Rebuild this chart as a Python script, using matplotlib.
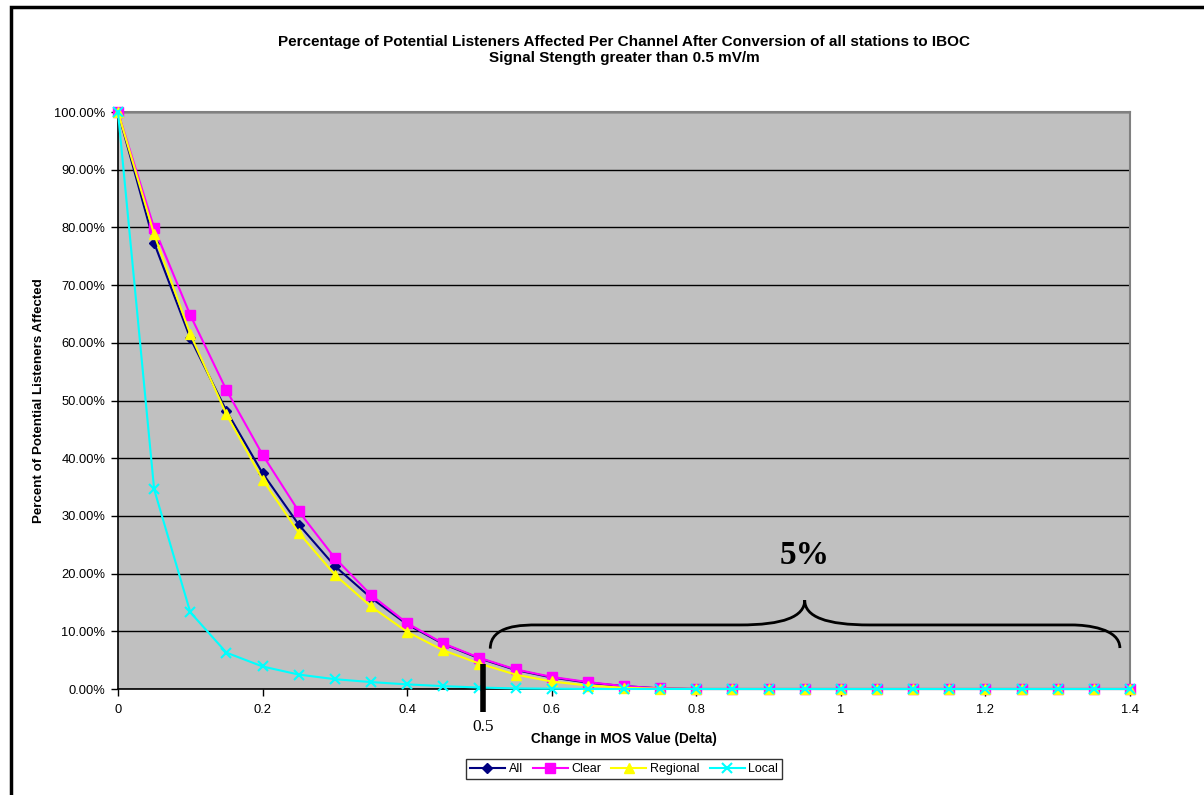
import matplotlib
matplotlib.use("Agg")
import matplotlib.pyplot as plt
from matplotlib.path import Path
from matplotlib.patches import PathPatch, Rectangle
from matplotlib.transforms import blended_transform_factory

# ---- data ----
x_vals = [0.0, 0.05, 0.1, 0.15, 0.2, 0.25, 0.3, 0.35, 0.4, 0.45, 0.5, 0.55, 0.6, 0.65,
          0.7, 0.75, 0.8, 0.85, 0.9, 0.95, 1.0, 1.05, 1.1, 1.15, 1.2, 1.25, 1.3, 1.35, 1.4]
all_vals = [100, 77.3, 60.8, 48.2, 37.4, 28.5, 21.3, 15.8, 11.2, 7.8, 5.3, 3.3, 2.0, 1.1,
            0.5, 0.1, 0, 0, 0, 0, 0, 0, 0, 0, 0, 0, 0, 0, 0]
clear_vals = [100, 79.9, 64.8, 51.8, 40.6, 30.8, 22.7, 16.3, 11.4, 7.9, 5.4, 3.4, 2.1, 1.2,
              0.5, 0.1, 0, 0, 0, 0, 0, 0, 0, 0, 0, 0, 0, 0, 0]
regional_vals = [100, 78.8, 61.5, 47.6, 36.3, 27.1, 19.8, 14.3, 9.9, 6.7, 4.4, 2.5, 1.3, 0.6,
                 0.2, 0.05, 0, 0, 0, 0, 0, 0, 0, 0, 0, 0, 0, 0, 0]
local_vals = [100, 34.6, 13.3, 6.3, 3.9, 2.5, 1.7, 1.2, 0.8, 0.5, 0.25, 0.1, 0.05, 0,
              0, 0, 0, 0, 0, 0, 0, 0, 0, 0, 0, 0, 0, 0, 0]
series_names = ["All", "Clear", "Regional", "Local"]
x_ticks = [0, 0.2, 0.4, 0.6, 0.8, 1.0, 1.2, 1.4]
x_tick_labels = ["0", "0.2", "0.4", "0.6", "0.8", "1", "1.2", "1.4"]
y_ticks = [0, 10, 20, 30, 40, 50, 60, 70, 80, 90, 100]
y_tick_labels = ["%.2f%%" % v for v in y_ticks]

title = ("Percentage of Potential Listeners Affected Per Channel After Conversion of all stations to IBOC\n"
         "Signal Stength greater than 0.5 mV/m")

plt.rcParams['font.family'] = ['Liberation Sans', 'DejaVu Sans']

fig = plt.figure(figsize=(12.04, 7.95), dpi=100)
ax = fig.add_axes([118/1204, 1-689/795, (1130-118)/1204, (689-112)/795])
ax.set_facecolor('#C0C0C0')

styles = [
    dict(color='#000080', marker='D', markersize=5.5),
    dict(color='#FF00FF', marker='s', markersize=6.5),
    dict(color='#FFFF00', marker='^', markersize=7),
    dict(color='#00FFFF', marker='x', markersize=7, markeredgewidth=1.5),
]
for name, vals, st in zip(series_names, [all_vals, clear_vals, regional_vals, local_vals], styles):
    ax.plot(x_vals, vals, label=name, linewidth=1.5, clip_on=False, zorder=3, **st)

ax.set_xlim(0, 1.4)
ax.set_ylim(0, 100)
ax.set_xticks(x_ticks)
ax.set_xticklabels(x_tick_labels, fontsize=9.3)
ax.set_yticks(y_ticks)
ax.set_yticklabels(y_tick_labels, fontsize=9.3)
ax.tick_params(direction='out', length=5, width=1, color='black')
ax.tick_params(axis='x', pad=6)
ax.tick_params(axis='y', pad=4)
ax.yaxis.grid(True, color='black', linewidth=1)
ax.set_axisbelow(True)
for s in ['top', 'right']:
    ax.spines[s].set_color('#808080')
    ax.spines[s].set_linewidth(1.5)
for s in ['left', 'bottom']:
    ax.spines[s].set_color('black')
    ax.spines[s].set_linewidth(1.2)

ax.set_ylabel("Percent of Potential Listeners Affected", fontsize=9.6, fontweight='bold', labelpad=7)
ax.set_xlabel("Change in MOS Value (Delta)", fontsize=9.8, fontweight='bold', labelpad=11)

fig.text(624/1204, 1-50/795, title, ha='center', va='center', fontsize=11.0,
         fontweight='bold', linespacing=1.15)

# annotations
trans = blended_transform_factory(ax.transData, ax.transAxes)
ax.plot([0.505, 0.505], [4.4, -4], color='black', linewidth=4, clip_on=False, zorder=4,
        solid_capstyle='butt')
ax.text(0.505, -0.065, "0.5", transform=trans, ha='center', va='center',
        fontsize=12.5, family='Liberation Serif')
ax.text(0.95, 23.2, "5%", ha='center', va='center', fontsize=24,
        fontweight='bold', family='Liberation Serif', zorder=5)

verts = [
    (0.515, 7.0), (0.515, 11.1), (0.56, 11.1), (0.58, 11.1),
    (0.86, 11.1),
    (0.92, 11.1), (0.95, 12.5), (0.95, 15.4),
    (0.95, 12.5), (0.98, 11.1), (1.04, 11.1),
    (1.32, 11.1),
    (1.34, 11.1), (1.386, 10.5), (1.386, 7.1),
]
codes = [Path.MOVETO, Path.CURVE4, Path.CURVE4, Path.CURVE4,
         Path.LINETO,
         Path.CURVE4, Path.CURVE4, Path.CURVE4,
         Path.CURVE4, Path.CURVE4, Path.CURVE4,
         Path.LINETO,
         Path.CURVE4, Path.CURVE4, Path.CURVE4]
ax.add_patch(PathPatch(Path(verts, codes), facecolor='none', edgecolor='black',
                       linewidth=2, zorder=5))

leg = fig.legend(loc='center', bbox_to_anchor=(624/1204, 1-769/795), ncol=4, fontsize=9,
                 frameon=True, fancybox=False, edgecolor='black', handlelength=2.8,
                 handletextpad=0.3, columnspacing=0.8, borderpad=0.3)
leg.get_frame().set_linewidth(1)

# figure border (left and top visible)
fig.patches.append(Rectangle((11/1204, -0.05), 1.2, 1.05 - 7/795, transform=fig.transFigure,
                             fill=False, edgecolor='black', linewidth=2.5))

fig.savefig("out.png", dpi=100)
